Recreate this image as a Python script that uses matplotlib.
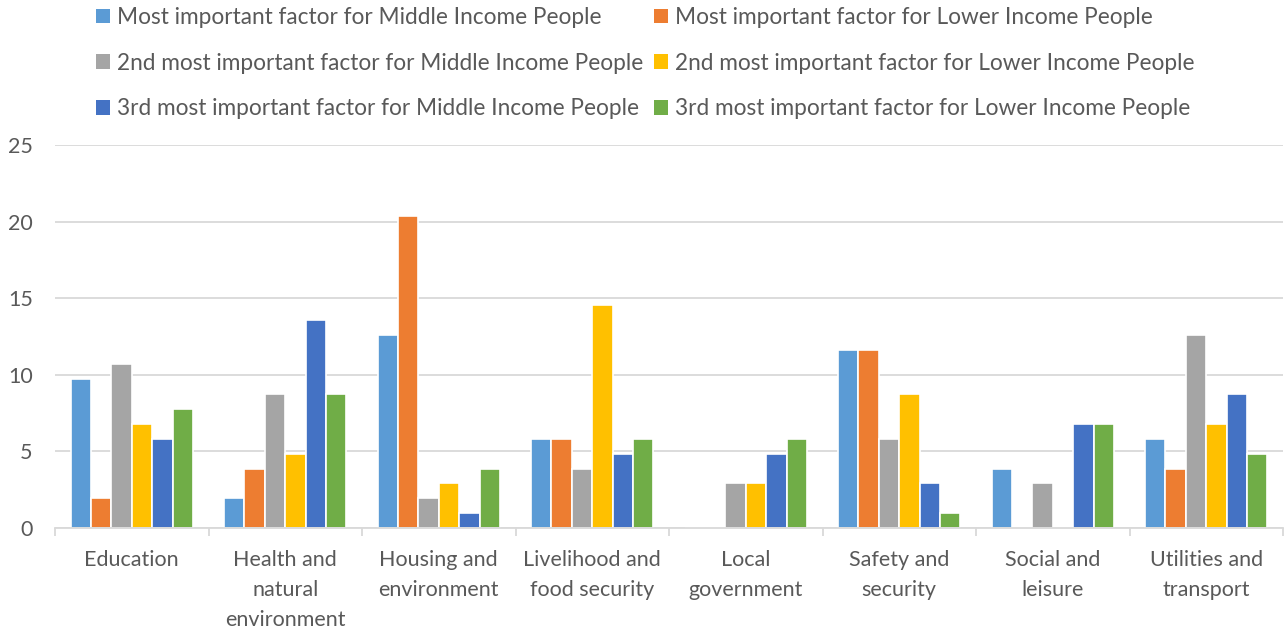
import numpy as np
import matplotlib.pyplot as plt
from matplotlib.patches import Patch

plt.rcParams['font.family'] = ['Lato', 'DejaVu Sans']

categories = ['Education', 'Health and\nnatural\nenvironment', 'Housing and\nenvironment',
              'Livelihood and\nfood security', 'Local\ngovernment', 'Safety and\nsecurity',
              'Social and\nleisure', 'Utilities and\ntransport']

series_names = ['Most important factor for Middle Income People',
                'Most important factor for Lower Income People',
                '2nd most important factor for Middle Income People',
                '2nd most important factor for Lower Income People',
                '3rd most important factor for Middle Income People',
                '3rd most important factor for Lower Income People']

most_middle = [9.71, 1.94, 12.62, 5.83, 0, 11.65, 3.88, 5.83]
most_lower = [1.94, 3.88, 20.39, 5.83, 0, 11.65, 0, 3.88]
second_middle = [10.68, 8.74, 1.94, 3.88, 2.91, 5.83, 2.91, 12.62]
second_lower = [6.80, 4.85, 2.91, 14.56, 2.91, 8.74, 0, 6.80]
third_middle = [5.83, 13.59, 0.97, 4.85, 4.85, 2.91, 6.80, 8.74]
third_lower = [7.77, 8.74, 3.88, 5.83, 5.83, 0.97, 6.80, 4.85]

series = [most_middle, most_lower, second_middle, second_lower, third_middle, third_lower]
colors = ['#5B9BD5', '#ED7D31', '#A5A5A5', '#FFC000', '#4472C4', '#70AD47']

fig = plt.figure(figsize=(12.88, 6.29), dpi=100)
ax = fig.add_axes([55/1288, 1 - 528/629, 1228/1288, 383/629])

x = np.arange(len(categories))
step = 0.133
for i, (vals, col) in enumerate(zip(series, colors)):
    offs = (i - 2.5) * step
    ax.bar(x + offs, vals, width=step, color=col, edgecolor='white', linewidth=1.2, zorder=2)

ax.set_xlim(-0.5, len(categories) - 0.5)
ax.set_ylim(0, 25)
ax.set_yticks(range(0, 26, 5))
ax.grid(axis='y', color='#D9D9D9', linewidth=1.3, zorder=0)
ax.set_axisbelow(True)
for s in ['top', 'right', 'left']:
    ax.spines[s].set_visible(False)
ax.spines['bottom'].set_color('#D9D9D9')
ax.spines['bottom'].set_linewidth(1.3)
ax.spines['bottom'].set_zorder(3)
ax.tick_params(axis='y', length=0, labelsize=15.5, labelcolor='#595959', pad=16)

# category boundaries as ticks, labels in the middle
ax.set_xticks(np.arange(-0.5, len(categories), 1.0))
ax.set_xticklabels([])
ax.tick_params(axis='x', length=6, color='#D9D9D9', width=1.3)
for xi, lab in zip(x, categories):
    ax.text(xi, -1.45, lab, ha='center', va='top', fontsize=15.5, color='#595959',
            linespacing=1.62, transform=ax.transData)

# legend: two columns placed separately (middle income left, lower income right)
leg_kw = dict(loc='upper left', frameon=False, fontsize=16.3, labelcolor='#595959',
              handlelength=0.62, handleheight=0.62, handletextpad=0.3,
              labelspacing=1.09, borderpad=0, borderaxespad=0)
for col_idx, x0 in zip([(0, 2, 4), (1, 3, 5)], [96, 654]):
    handles = [Patch(facecolor=colors[i], edgecolor='none') for i in col_idx]
    labels = [series_names[i] for i in col_idx]
    lg = fig.legend(handles, labels, bbox_to_anchor=(x0/1288, 1 - 7/629), **leg_kw)

fig.savefig('out.png', dpi=100)
